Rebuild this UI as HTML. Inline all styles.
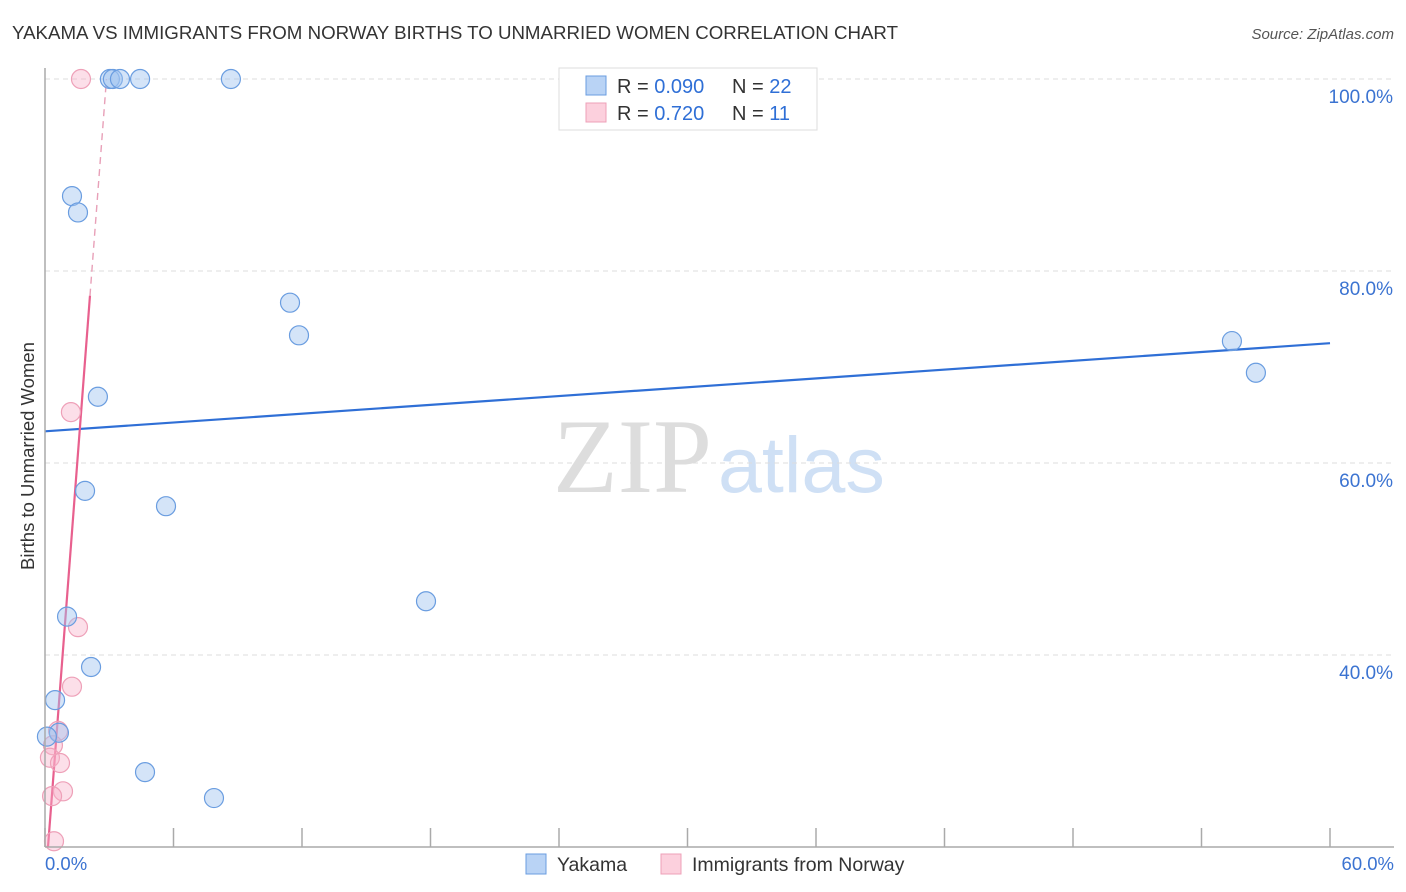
<!DOCTYPE html>
<html><head><meta charset="utf-8"><style>
body{margin:0;background:#fff;font-family:"Liberation Sans",sans-serif;}
svg{display:block}
</style></head><body>
<svg width="1406" height="892" id="chart">
<text x="12" y="39" font-size="18.7" fill="#333">YAKAMA VS IMMIGRANTS FROM NORWAY BIRTHS TO UNMARRIED WOMEN CORRELATION CHART</text>
<text x="1394" y="39" font-size="15" fill="#555" font-style="italic" text-anchor="end">Source: ZipAtlas.com</text>
<text transform="translate(34,456) rotate(-90)" font-size="18.5" fill="#333" text-anchor="middle">Births to Unmarried Women</text>
<text x="553" y="492" font-size="106" fill="#ddd" font-family="Liberation Serif,serif">ZIP</text>
<text x="718" y="492" font-size="79" fill="#cfe0f5">atlas</text>
<g id="grid"></g><g id="ticks"></g><g id="lines"></g><g id="pts"></g>
<line x1="45" y1="68" x2="45" y2="847" stroke="#aaa" stroke-width="1.5"/>
<line x1="45" y1="847" x2="1394" y2="847" stroke="#aaa" stroke-width="1.5"/>
<text x="45" y="870" font-size="18.5" fill="#3b73d1">0.0%</text>
<text x="1394" y="870" font-size="18.5" fill="#3b73d1" text-anchor="end">60.0%</text>
<g>
<rect x="559" y="68" width="258" height="62" fill="#fff" stroke="#ddd"/>
<rect x="586" y="76" width="20" height="19" fill="#b9d3f5" stroke="#6a9de0"/>
<rect x="586" y="103" width="20" height="19" fill="#fcd0dd" stroke="#eea0b8"/>
<text x="617" y="93" font-size="20" fill="#333">R = <tspan fill="#2f6fd6">0.090</tspan></text>
<text x="732" y="93" font-size="20" fill="#333">N = <tspan fill="#2f6fd6">22</tspan></text>
<text x="617" y="120" font-size="20" fill="#333">R = <tspan fill="#2f6fd6"> 0.720</tspan></text>
<text x="732" y="120" font-size="20" fill="#333">N = <tspan fill="#2f6fd6"> 11</tspan></text>
</g>
<g>
<rect x="526" y="854" width="20" height="20" fill="#b9d3f5" stroke="#6a9de0"/>
<text x="557" y="871" font-size="19.5" fill="#333">Yakama</text>
<rect x="661" y="854" width="20" height="20" fill="#fcd0dd" stroke="#eea0b8"/>
<text x="692" y="871" font-size="19.5" fill="#333">Immigrants from Norway</text>
</g>
</svg>
<script>
const yTicks=[40,60,80,100];
const xTicks=[0,6,12,18,24,30,36,42,48,54,60];
const blueX=[3.03,3.17,3.5,4.44,8.68,1.26,1.54,2.47,11.44,11.86,55.42,56.54,1.87,5.65,17.79,1.03,2.15,0.47,0.65,0.09,4.67,7.89];
const blueY=[100,100,100,100,100,87.8,86.1,66.9,76.7,73.3,72.7,69.4,57.1,55.5,45.6,44.0,38.75,35.3,31.9,31.5,27.8,25.1];
const pinkX=[1.68,1.21,1.54,1.26,0.61,0.37,0.23,0.70,0.84,0.33,0.42];
const pinkY=[100,65.3,42.9,36.7,32.1,30.6,29.3,28.75,25.8,25.3,20.6];
const blueFit=[63.3,0.153];
const pinkFit=[15.9,29.3];
const NS="http://www.w3.org/2000/svg";
const sx=v=>45+v*1285/60, sy=v=>847-(v-20)*9.6;
function mk(t,a,p){const e=document.createElementNS(NS,t);for(const k in a)e.setAttribute(k,a[k]);document.getElementById(p).appendChild(e);return e;}
yTicks.forEach(t=>{
 const l=mk('line',{x1:45,x2:1394,y1:sy(t),y2:sy(t),stroke:'#ddd','stroke-dasharray':'5,4'},'grid');
 
 
 const tx=mk('text',{x:1393,y:sy(t)+24,'font-size':19,fill:'#3b73d1','text-anchor':'end'},'grid');
 tx.textContent=t.toFixed(1)+'%';
 
 
});
xTicks.forEach(t=>{
 const l=mk('line',{x1:sx(t),x2:sx(t),y1:828,y2:847,stroke:'#aaa','stroke-width':1.5},'ticks');
 
 
});
function pts(X,Y,fill,stroke,name){X.forEach((x,i)=>{
 const c=mk('circle',{cx:sx(x),cy:sy(Y[i]),r:9.5,fill:fill,stroke:stroke,'stroke-width':1.2},'pts');
 
 
});}
pts(pinkX,pinkY,'rgba(247,175,200,0.4)','#eea0b8','norway-point');
pts(blueX,blueY,'rgba(160,195,240,0.45)','#6a9de0','yakama-point');
let bl=mk('line',{x1:sx(0),y1:sy(blueFit[0]),x2:sx(60),y2:sy(blueFit[0]+blueFit[1]*60),stroke:'#2f6fd6','stroke-width':2.2},'lines');


const px0=(20-pinkFit[0])/pinkFit[1], px1=2.1, px2=(100-pinkFit[0])/pinkFit[1];
let pl=mk('line',{x1:sx(px0),y1:sy(20),x2:sx(px1),y2:sy(pinkFit[0]+pinkFit[1]*px1),stroke:'#e8608e','stroke-width':2.2},'lines');


let pd=mk('line',{x1:sx(px1),y1:sy(pinkFit[0]+pinkFit[1]*px1),x2:sx(px2),y2:sy(100),stroke:'#e8a0b8','stroke-width':1.4,'stroke-dasharray':'7,5'},'lines');


</script>
</body></html>
